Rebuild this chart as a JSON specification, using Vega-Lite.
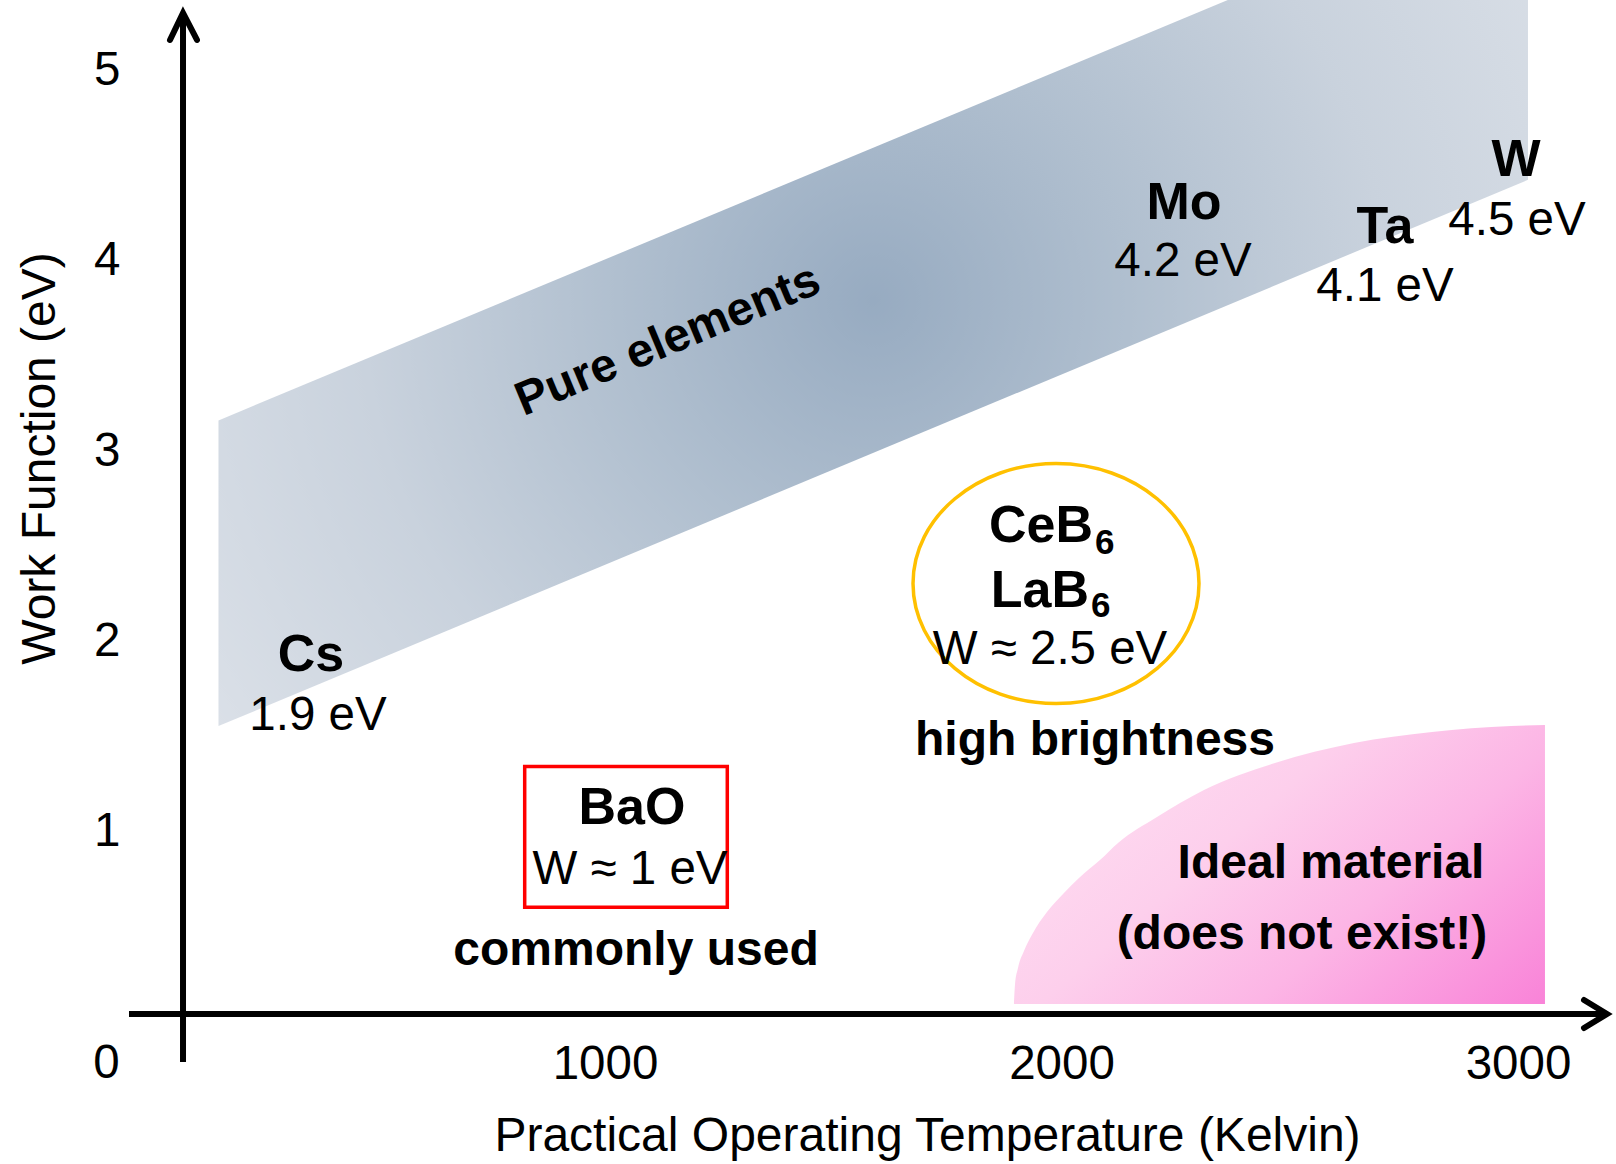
{
  "$schema": "https://vega.github.io/schema/vega-lite/v6.json",
  "width": 1616,
  "height": 1164,
  "autosize": {"type": "none"},
  "padding": 0,
  "background": "white",
  "config": {
    "view": {"stroke": null},
    "font": "Liberation Sans",
    "text": {"font": "Liberation Sans", "color": "#000000"}
  },
  "datasets": {
    "pure_elements_band": [
      {"T": 153.3, "v": 3.161, "v2": 1.555},
      {"T": 3021.9, "v": 6.027, "v2": 4.425}
    ],
    "ideal_region": [
      {"T": 1895.9, "v": 0.095, "v2": 0.095},
      {"T": 1898.1, "v": 0.195, "v2": 0.095},
      {"T": 1904.7, "v": 0.284, "v2": 0.095},
      {"T": 1917.8, "v": 0.373, "v2": 0.095},
      {"T": 1937.5, "v": 0.468, "v2": 0.095},
      {"T": 1968.2, "v": 0.578, "v2": 0.095},
      {"T": 2005.4, "v": 0.678, "v2": 0.095},
      {"T": 2038.3, "v": 0.757, "v2": 0.095},
      {"T": 2084.3, "v": 0.851, "v2": 0.095},
      {"T": 2123.8, "v": 0.941, "v2": 0.095},
      {"T": 2209.2, "v": 1.077, "v2": 0.095},
      {"T": 2312.1, "v": 1.219, "v2": 0.095},
      {"T": 2467.6, "v": 1.361, "v2": 0.095},
      {"T": 2640.7, "v": 1.466, "v2": 0.095},
      {"T": 2811.6, "v": 1.524, "v2": 0.095},
      {"T": 2984.7, "v": 1.555, "v2": 0.095},
      {"T": 3059.1, "v": 1.561, "v2": 0.095}
    ],
    "bao_box": [
      {"T": 824.1, "T2": 1267.9, "v": 1.342, "v2": 0.603}
    ],
    "boride_ring": [
      {"T": 1988.0, "v": 2.304}
    ],
    "axis_lines": [
      {"line": "work function", "T": 75.6, "T2": 75.6, "v": -0.21, "v2": 5.302},
      {"line": "temperature", "T": -42.7, "T2": 3194.9, "v": 0.042, "v2": 0.042}
    ],
    "arrow_heads": [
      {"arrow": "y", "i": 0, "T": 47.1, "v": 5.160},
      {"arrow": "y", "i": 1, "T": 75.6, "v": 5.302},
      {"arrow": "y", "i": 2, "T": 106.2, "v": 5.160},
      {"arrow": "x", "i": 0, "T": 3144.6, "v": 0.1156},
      {"arrow": "x", "i": 1, "T": 3194.9, "v": 0.042},
      {"arrow": "x", "i": 2, "T": 3144.6, "v": -0.0315}
    ],
    "element_names": [
      {"label": "Cs", "T": 356.0, "v": 1.928},
      {"label": "Mo", "T": 2268.4, "v": 4.304},
      {"label": "Ta", "T": 2708.6, "v": 4.178},
      {"label": "W", "T": 2995.6, "v": 4.530},
      {"label": "BaO", "T": 1059.1, "v": 1.125}
    ],
    "boride_names": [
      {"label": "CeB", "T": 2069.0, "v": 2.606},
      {"label": "LaB", "T": 2060.2, "v": 2.265}
    ],
    "boride_subscripts": [
      {"label": "6", "T": 2073.4, "v": 2.517},
      {"label": "6", "T": 2064.6, "v": 2.186}
    ],
    "work_values": [
      {"label": "1.9 eV", "T": 371.3, "v": 1.610},
      {"label": "4.2 eV", "T": 2266.2, "v": 3.995},
      {"label": "4.1 eV", "T": 2708.6, "v": 3.864},
      {"label": "4.5 eV", "T": 2997.8, "v": 4.211},
      {"label": "W ≈ 2.5 eV", "T": 1974.8, "v": 1.956},
      {"label": "W ≈ 1 eV", "T": 1054.8, "v": 0.800}
    ],
    "notes": [
      {"label": "high brightness", "T": 2073.4, "v": 1.478},
      {"label": "commonly used", "T": 1067.9, "v": 0.375},
      {"label": "Ideal material", "T": 2590.4, "v": 0.832},
      {"label": "(does not exist!)", "T": 2526.8, "v": 0.459}
    ],
    "band_label": [
      {"label": "Pure elements", "T": 1138.0, "v": 3.579}
    ],
    "origin_label": [
      {"label": "0", "T": -63.0, "v": -0.219}
    ]
  },
  "encoding": {
    "x": {
      "field": "T",
      "type": "quantitative",
      "scale": {"domain": [-325.3, 3214.7], "nice": false, "zero": false},
      "axis": {
        "orient": "bottom",
        "offset": -100,
        "values": [1000, 2000, 3000],
        "format": "d",
        "domain": false,
        "ticks": false,
        "tickSize": 0,
        "grid": false,
        "labelPadding": 0,
        "labelAngle": 0,
        "labelAlign": "center",
        "labelBaseline": "middle",
        "labelFont": "Liberation Sans",
        "labelFontSize": 47.5,
        "labelColor": "#000000",
        "labelFlush": false,
        "labelOverlap": false,
        "title": "Practical Operating Temperature (Kelvin)",
        "titleFont": "Liberation Sans",
        "titleFontSize": 48,
        "titleFontWeight": "normal",
        "titleColor": "#000000",
        "titleX": 927,
        "titleY": 72,
        "titleAngle": 0,
        "titleAlign": "center",
        "titleBaseline": "middle"
      }
    },
    "y": {
      "field": "v",
      "type": "quantitative",
      "scale": {"domain": [-0.746, 5.37], "nice": false, "zero": false},
      "axis": {
        "orient": "left",
        "offset": -120,
        "values": [1, 2, 3, 4, 5],
        "format": "d",
        "domain": false,
        "ticks": false,
        "tickSize": 0,
        "grid": false,
        "labelPadding": 0,
        "labelAlign": "right",
        "labelBaseline": "middle",
        "labelFont": "Liberation Sans",
        "labelFontSize": 47.5,
        "labelColor": "#000000",
        "labelFlush": false,
        "labelOverlap": false,
        "title": "Work Function (eV)",
        "titleFont": "Liberation Sans",
        "titleFontSize": 48,
        "titleFontWeight": "normal",
        "titleColor": "#000000",
        "titleX": -80,
        "titleY": 458,
        "titleAngle": 270,
        "titleAlign": "center",
        "titleBaseline": "middle"
      }
    }
  },
  "layer": [
    {
      "data": {"name": "pure_elements_band"},
      "mark": {
        "type": "area",
        "clip": true,
        "opacity": 1,
        "fill": {
          "gradient": "radial",
          "x1": 0.5, "y1": 0.5, "r1": 0,
          "x2": 0.5, "y2": 0.5, "r2": 0.65,
          "stops": [
            {"offset": 0, "color": "#97abc1"},
            {"offset": 0.3, "color": "#b0bfcf"},
            {"offset": 0.6, "color": "#c9d2dd"},
            {"offset": 0.88, "color": "#d8dee6"},
            {"offset": 1, "color": "#dfe4eb"}
          ]
        }
      },
      "encoding": {"y2": {"field": "v2"}}
    },
    {
      "data": {"name": "ideal_region"},
      "mark": {
        "type": "area",
        "interpolate": "monotone",
        "opacity": 1,
        "fill": {
          "gradient": "linear",
          "x1": 0, "y1": 0.4, "x2": 1, "y2": 1,
          "stops": [
            {"offset": 0, "color": "#fedcf1"},
            {"offset": 0.3, "color": "#fdcfec"},
            {"offset": 0.6, "color": "#fcb5e5"},
            {"offset": 1, "color": "#f983d8"}
          ]
        }
      },
      "encoding": {"y2": {"field": "v2"}}
    },
    {
      "data": {"name": "bao_box"},
      "mark": {"type": "rect", "filled": false, "fill": null, "stroke": "#ff0000", "strokeWidth": 3.5, "opacity": 1},
      "encoding": {"x2": {"field": "T2"}, "y2": {"field": "v2"}}
    },
    {
      "data": {"name": "boride_ring"},
      "mark": {
        "type": "point",
        "shape": "M-1,0C-1,-0.4628,-0.5523,-0.839,0,-0.839C0.5523,-0.839,1,-0.4628,1,0C1,0.4628,0.5523,0.839,0,0.839C-0.5523,0.839,-1,0.4628,-1,0Z",
        "size": 81796,
        "filled": false,
        "stroke": "#ffc000",
        "strokeWidth": 3.5,
        "opacity": 1
      }
    },
    {
      "data": {"name": "axis_lines"},
      "mark": {"type": "rule", "color": "#000000", "strokeWidth": 6, "strokeCap": "butt"},
      "encoding": {"x2": {"field": "T2"}, "y2": {"field": "v2"}}
    },
    {
      "data": {"name": "arrow_heads"},
      "mark": {"type": "line", "color": "#000000", "strokeWidth": 6, "strokeCap": "round", "strokeJoin": "miter"},
      "encoding": {
        "detail": {"field": "arrow", "type": "nominal"},
        "order": {"field": "i", "type": "quantitative"}
      }
    },
    {
      "data": {"name": "element_names"},
      "mark": {"type": "text", "fontSize": 52, "fontWeight": "bold", "align": "center", "baseline": "middle"},
      "encoding": {"text": {"field": "label"}}
    },
    {
      "data": {"name": "boride_names"},
      "mark": {"type": "text", "fontSize": 52, "fontWeight": "bold", "align": "right", "baseline": "middle"},
      "encoding": {"text": {"field": "label"}}
    },
    {
      "data": {"name": "boride_subscripts"},
      "mark": {"type": "text", "fontSize": 35, "fontWeight": "bold", "align": "left", "baseline": "middle"},
      "encoding": {"text": {"field": "label"}}
    },
    {
      "data": {"name": "work_values"},
      "mark": {"type": "text", "fontSize": 47.5, "fontWeight": "normal", "align": "center", "baseline": "middle"},
      "encoding": {"text": {"field": "label"}}
    },
    {
      "data": {"name": "notes"},
      "mark": {"type": "text", "fontSize": 48, "fontWeight": "bold", "align": "center", "baseline": "middle"},
      "encoding": {"text": {"field": "label"}}
    },
    {
      "data": {"name": "band_label"},
      "mark": {"type": "text", "fontSize": 47.5, "fontWeight": "bold", "align": "center", "baseline": "middle", "angle": 337.4},
      "encoding": {"text": {"field": "label"}}
    },
    {
      "data": {"name": "origin_label"},
      "mark": {"type": "text", "fontSize": 47.5, "fontWeight": "normal", "align": "right", "baseline": "middle"},
      "encoding": {"text": {"field": "label"}}
    }
  ]
}
